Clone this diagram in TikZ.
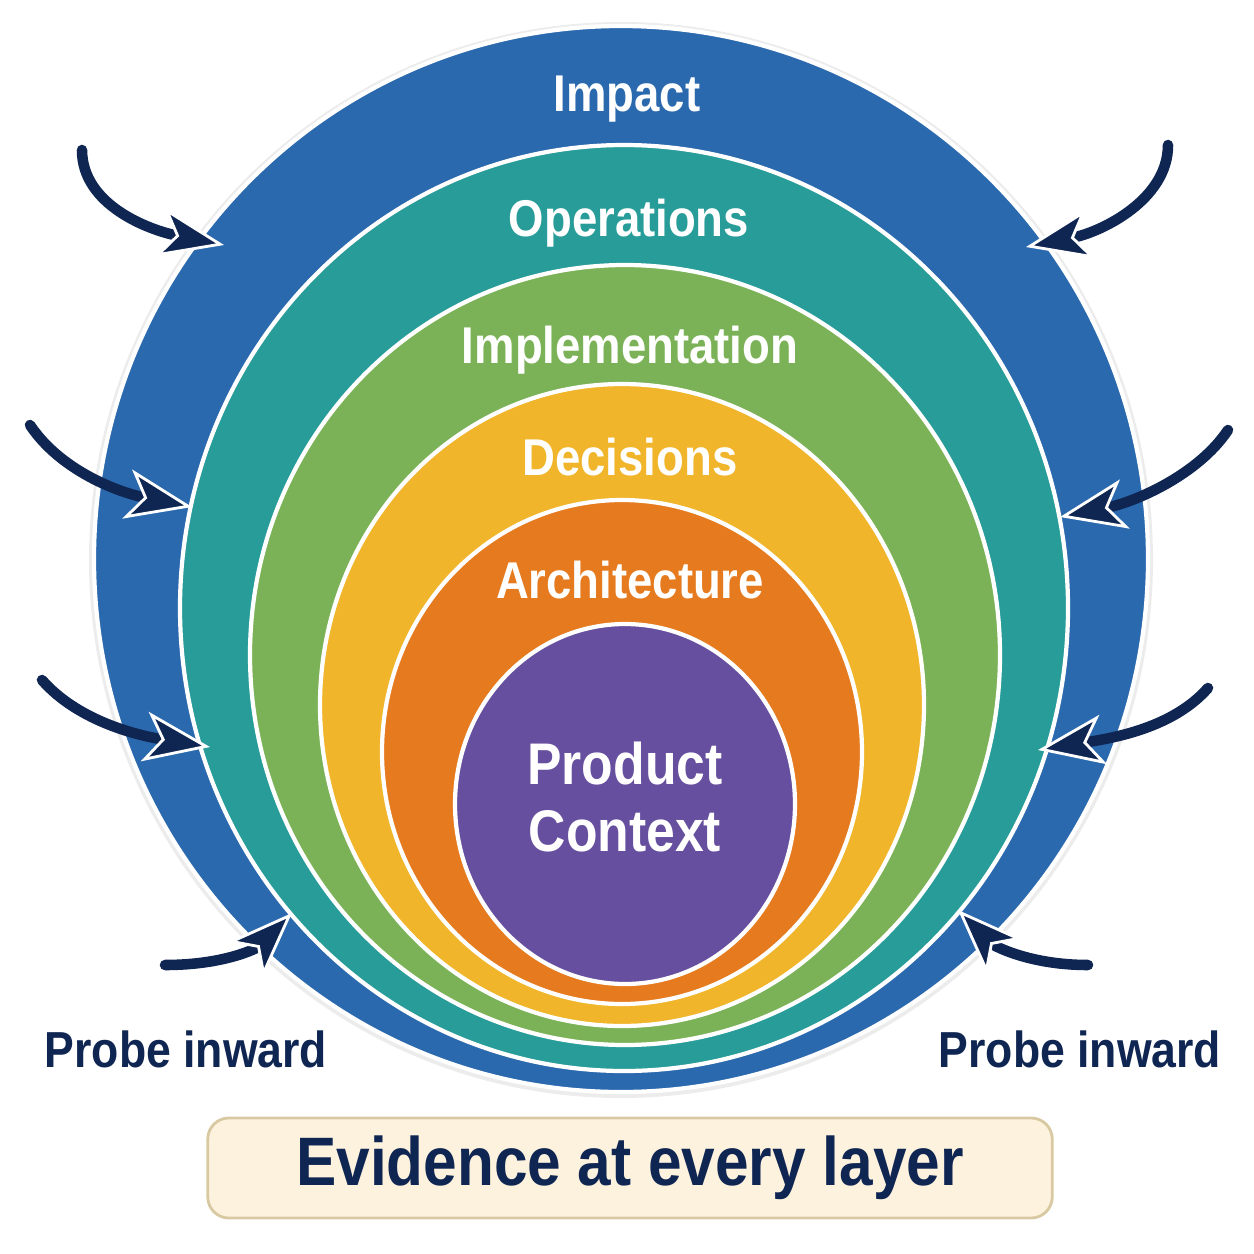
\documentclass[tikz,border=0pt]{standalone}
\usepackage{fontspec}
\setmainfont{Liberation Sans}[FakeStretch=0.88]
\usepackage{xcolor}
\usetikzlibrary{arrows.meta,positioning}

\definecolor{impactblue}{HTML}{2B69AE}
\definecolor{opsteal}{HTML}{279C98}
\definecolor{implgreen}{HTML}{7CB257}
\definecolor{decyellow}{HTML}{F0B52A}
\definecolor{archorange}{HTML}{E57A1E}
\definecolor{ctxpurple}{HTML}{664F9E}
\definecolor{navy}{HTML}{0F2552}
\definecolor{cream}{HTML}{FDF2DE}
\definecolor{tan}{HTML}{D9C9A3}

\tikzset{
  layer/.style={fill=#1,draw=white,line width=1.2pt},
  layerlabel/.style={text=white,anchor=base,font=\bfseries\fontsize{14.7}{17}\selectfont},
  probe/.style={navy,line width=3pt,line cap=round,
    -{Stealth[length=0.66cm,width=0.5cm,inset=0.17cm,color=white,fill=navy,line width=0.8pt]}},
  probelabel/.style={text=navy,anchor=base,font=\bfseries\fontsize{14.4}{17}\selectfont},
  evidencebox/.style={fill=cream,draw=tan,line width=0.8pt,rounded corners=6pt,
    minimum width=8.44cm,minimum height=1cm,text=navy,font=\bfseries\fontsize{19.5}{22}\selectfont}
}

\begin{document}
\begin{tikzpicture}[x=0.01cm,y=-0.01cm]
  \useasboundingbox (0,0) rectangle (1254,1254);
  % soft edge round the outer layer
  \fill[gray!15] (621,560) ellipse [x radius=532, y radius=538];
  % layers, outer to inner
  \foreach \cx/\cy/\rx/\ry/\col in {621/559/527/533/impactblue, 624/608/444/463/opsteal,
      625/655/375/390/implgreen, 622/705/302/321/decyellow,
      622/752/240/252/archorange, 625/804/170/180/ctxpurple}
    \draw[layer=\col] (\cx,\cy) ellipse [x radius=\rx, y radius=\ry];

  \node[layerlabel] (impact) at (627,111) {Impact};
  \node[layerlabel] (operations) at (629,236) {Operations};
  \node[layerlabel] (implementation) at (630,363) {Implementation};
  \node[layerlabel] (decisions) at (630,475) {Decisions};
  \node[layerlabel] (architecture) at (630,598) {Architecture};
  \node[layerlabel,font=\bfseries\fontsize{16.7}{19}\selectfont] (product) at (625,784) {Product};
  \node[layerlabel,font=\bfseries\fontsize{16.7}{19}\selectfont] (context) at (625,851) {Context};

  % probes from both sides
  \foreach \n/\sx/\sy/\ex/\ey/\ax/\ay/\bx/\by in {
      1/82/150/224/245/0/55/-75/-15, 2/30/425/192/507/30/45/-75/-15,
      3/42/680/210/747/35/40/-75/-12, 4/165/965/292/913/60/0/-35/35,
      5/1168/145/1026/247/0/55/75/-15, 6/1228/430/1060/517/-30/45/75/-15,
      7/1208/688/1038/750/-35/40/75/-12, 8/1088/965/958/910/-60/0/35/35} {
    \coordinate (tail\n) at (\sx,\sy);
    \coordinate (tip\n) at (\ex,\ey);
    \draw[probe] (tail\n) .. controls +(\ax,\ay) and +(\bx,\by) .. (tip\n);
  }

  \node[probelabel] (probeL) at (186,1067) {Probe inward};
  \node[probelabel] (probeR) at (1080,1067) {Probe inward};
  \node[evidencebox] (evidence) at (630,1168) {Evidence at every layer};
\end{tikzpicture}
\end{document}
